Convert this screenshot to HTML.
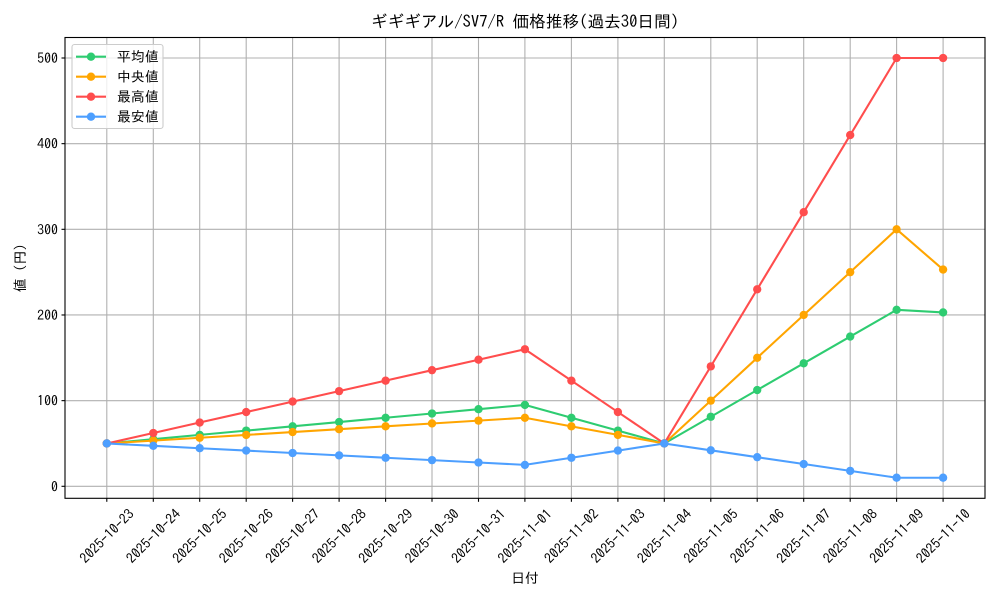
<!DOCTYPE html>
<html>
<head>
<meta charset="utf-8">
<style>
html,body{margin:0;padding:0;background:#fff;}
svg{display:block;}
text{font-family:"IPAGothic","Liberation Sans","Noto Sans CJK JP",sans-serif;fill:#000;}
</style>
</head>
<body>
<svg width="1000" height="600" viewBox="0 0 1000 600" xmlns="http://www.w3.org/2000/svg">
<rect x="0" y="0" width="1000" height="600" fill="#fff"/>
<!-- grid -->
<g stroke="#b0b0b0" stroke-width="1.1" fill="none">
<line x1="106.8" y1="37.5" x2="106.8" y2="498.3"/>
<line x1="153.3" y1="37.5" x2="153.3" y2="498.3"/>
<line x1="199.7" y1="37.5" x2="199.7" y2="498.3"/>
<line x1="246.2" y1="37.5" x2="246.2" y2="498.3"/>
<line x1="292.6" y1="37.5" x2="292.6" y2="498.3"/>
<line x1="339.1" y1="37.5" x2="339.1" y2="498.3"/>
<line x1="385.6" y1="37.5" x2="385.6" y2="498.3"/>
<line x1="432.0" y1="37.5" x2="432.0" y2="498.3"/>
<line x1="478.5" y1="37.5" x2="478.5" y2="498.3"/>
<line x1="524.9" y1="37.5" x2="524.9" y2="498.3"/>
<line x1="571.4" y1="37.5" x2="571.4" y2="498.3"/>
<line x1="617.9" y1="37.5" x2="617.9" y2="498.3"/>
<line x1="664.3" y1="37.5" x2="664.3" y2="498.3"/>
<line x1="710.8" y1="37.5" x2="710.8" y2="498.3"/>
<line x1="757.2" y1="37.5" x2="757.2" y2="498.3"/>
<line x1="803.7" y1="37.5" x2="803.7" y2="498.3"/>
<line x1="850.2" y1="37.5" x2="850.2" y2="498.3"/>
<line x1="896.6" y1="37.5" x2="896.6" y2="498.3"/>
<line x1="943.1" y1="37.5" x2="943.1" y2="498.3"/>
<line x1="65" y1="486.3" x2="985" y2="486.3"/>
<line x1="65" y1="400.64" x2="985" y2="400.64"/>
<line x1="65" y1="314.98" x2="985" y2="314.98"/>
<line x1="65" y1="229.32" x2="985" y2="229.32"/>
<line x1="65" y1="143.66" x2="985" y2="143.66"/>
<line x1="65" y1="58.0" x2="985" y2="58.0"/>
</g>
<!-- ticks -->
<g stroke="#000" stroke-width="1.1">
<line x1="106.8" y1="498.3" x2="106.8" y2="501.8"/>
<line x1="153.3" y1="498.3" x2="153.3" y2="501.8"/>
<line x1="199.7" y1="498.3" x2="199.7" y2="501.8"/>
<line x1="246.2" y1="498.3" x2="246.2" y2="501.8"/>
<line x1="292.6" y1="498.3" x2="292.6" y2="501.8"/>
<line x1="339.1" y1="498.3" x2="339.1" y2="501.8"/>
<line x1="385.6" y1="498.3" x2="385.6" y2="501.8"/>
<line x1="432.0" y1="498.3" x2="432.0" y2="501.8"/>
<line x1="478.5" y1="498.3" x2="478.5" y2="501.8"/>
<line x1="524.9" y1="498.3" x2="524.9" y2="501.8"/>
<line x1="571.4" y1="498.3" x2="571.4" y2="501.8"/>
<line x1="617.9" y1="498.3" x2="617.9" y2="501.8"/>
<line x1="664.3" y1="498.3" x2="664.3" y2="501.8"/>
<line x1="710.8" y1="498.3" x2="710.8" y2="501.8"/>
<line x1="757.2" y1="498.3" x2="757.2" y2="501.8"/>
<line x1="803.7" y1="498.3" x2="803.7" y2="501.8"/>
<line x1="850.2" y1="498.3" x2="850.2" y2="501.8"/>
<line x1="896.6" y1="498.3" x2="896.6" y2="501.8"/>
<line x1="943.1" y1="498.3" x2="943.1" y2="501.8"/>
<line x1="61.5" y1="486.3" x2="65" y2="486.3"/>
<line x1="61.5" y1="400.64" x2="65" y2="400.64"/>
<line x1="61.5" y1="314.98" x2="65" y2="314.98"/>
<line x1="61.5" y1="229.32" x2="65" y2="229.32"/>
<line x1="61.5" y1="143.66" x2="65" y2="143.66"/>
<line x1="61.5" y1="58.0" x2="65" y2="58.0"/>
</g>
<!-- y tick labels -->
<g font-size="13.9" text-anchor="end" dominant-baseline="central">
<text x="58" y="486.3">0</text>
<text x="58" y="400.64">100</text>
<text x="58" y="314.98">200</text>
<text x="58" y="229.32">300</text>
<text x="58" y="143.66">400</text>
<text x="58" y="58.0">500</text>
</g>
<!-- x tick labels -->
<g font-size="13.9" text-anchor="middle" dominant-baseline="central">
<text transform="translate(106.8,536) rotate(-45)">2025-10-23</text>
<text transform="translate(153.3,536) rotate(-45)">2025-10-24</text>
<text transform="translate(199.7,536) rotate(-45)">2025-10-25</text>
<text transform="translate(246.2,536) rotate(-45)">2025-10-26</text>
<text transform="translate(292.6,536) rotate(-45)">2025-10-27</text>
<text transform="translate(339.1,536) rotate(-45)">2025-10-28</text>
<text transform="translate(385.6,536) rotate(-45)">2025-10-29</text>
<text transform="translate(432.0,536) rotate(-45)">2025-10-30</text>
<text transform="translate(478.5,536) rotate(-45)">2025-10-31</text>
<text transform="translate(524.9,536) rotate(-45)">2025-11-01</text>
<text transform="translate(571.4,536) rotate(-45)">2025-11-02</text>
<text transform="translate(617.9,536) rotate(-45)">2025-11-03</text>
<text transform="translate(664.3,536) rotate(-45)">2025-11-04</text>
<text transform="translate(710.8,536) rotate(-45)">2025-11-05</text>
<text transform="translate(757.2,536) rotate(-45)">2025-11-06</text>
<text transform="translate(803.7,536) rotate(-45)">2025-11-07</text>
<text transform="translate(850.2,536) rotate(-45)">2025-11-08</text>
<text transform="translate(896.6,536) rotate(-45)">2025-11-09</text>
<text transform="translate(943.1,536) rotate(-45)">2025-11-10</text>
</g>
<!-- axis labels & title -->
<text x="525" y="578" font-size="13.9" text-anchor="middle" dominant-baseline="central">日付</text>
<text transform="translate(20,268) rotate(-90)" font-size="13.9" text-anchor="middle" dominant-baseline="central">値 (円)</text>
<text x="525" y="22" font-size="16.67" text-anchor="middle" dominant-baseline="central">ギギギアル/SV7/R 価格推移(過去30日間)</text>

<!-- series -->
<g fill="none" stroke-width="2.08" stroke-linejoin="round" stroke-linecap="round">
<polyline stroke="#2ecc71" points="106.8,443.47 153.3,439.19 199.7,434.90 246.2,430.62 292.6,426.34 339.1,422.06 385.6,417.77 432.0,413.49 478.5,409.21 524.9,404.92 571.4,417.77 617.9,430.62 664.3,443.47 710.8,416.74 757.2,390.02 803.7,363.29 850.2,336.57 896.6,309.84 943.1,312.41"/>
</g>
<g fill="#2ecc71">
<circle cx="106.8" cy="443.47" r="4.17"/><circle cx="153.3" cy="439.19" r="4.17"/><circle cx="199.7" cy="434.90" r="4.17"/><circle cx="246.2" cy="430.62" r="4.17"/><circle cx="292.6" cy="426.34" r="4.17"/><circle cx="339.1" cy="422.06" r="4.17"/><circle cx="385.6" cy="417.77" r="4.17"/><circle cx="432.0" cy="413.49" r="4.17"/><circle cx="478.5" cy="409.21" r="4.17"/><circle cx="524.9" cy="404.92" r="4.17"/><circle cx="571.4" cy="417.77" r="4.17"/><circle cx="617.9" cy="430.62" r="4.17"/><circle cx="664.3" cy="443.47" r="4.17"/><circle cx="710.8" cy="416.74" r="4.17"/><circle cx="757.2" cy="390.02" r="4.17"/><circle cx="803.7" cy="363.29" r="4.17"/><circle cx="850.2" cy="336.57" r="4.17"/><circle cx="896.6" cy="309.84" r="4.17"/><circle cx="943.1" cy="312.41" r="4.17"/>
</g>

<g fill="none" stroke-width="2.08" stroke-linejoin="round" stroke-linecap="round">
<polyline stroke="#ffa500" points="106.8,443.47 153.3,440.62 199.7,437.76 246.2,434.90 292.6,432.05 339.1,429.19 385.6,426.34 432.0,423.48 478.5,420.62 524.9,417.77 571.4,426.34 617.9,434.90 664.3,443.47 710.8,400.64 757.2,357.81 803.7,314.98 850.2,272.15 896.6,229.32 943.1,269.58"/>
</g>
<g fill="#ffa500">
<circle cx="106.8" cy="443.47" r="4.17"/><circle cx="153.3" cy="440.62" r="4.17"/><circle cx="199.7" cy="437.76" r="4.17"/><circle cx="246.2" cy="434.90" r="4.17"/><circle cx="292.6" cy="432.05" r="4.17"/><circle cx="339.1" cy="429.19" r="4.17"/><circle cx="385.6" cy="426.34" r="4.17"/><circle cx="432.0" cy="423.48" r="4.17"/><circle cx="478.5" cy="420.62" r="4.17"/><circle cx="524.9" cy="417.77" r="4.17"/><circle cx="571.4" cy="426.34" r="4.17"/><circle cx="617.9" cy="434.90" r="4.17"/><circle cx="664.3" cy="443.47" r="4.17"/><circle cx="710.8" cy="400.64" r="4.17"/><circle cx="757.2" cy="357.81" r="4.17"/><circle cx="803.7" cy="314.98" r="4.17"/><circle cx="850.2" cy="272.15" r="4.17"/><circle cx="896.6" cy="229.32" r="4.17"/><circle cx="943.1" cy="269.58" r="4.17"/>
</g>

<g fill="none" stroke-width="2.08" stroke-linejoin="round" stroke-linecap="round">
<polyline stroke="#ff4d4d" points="106.8,443.47 153.3,433.00 199.7,422.53 246.2,412.06 292.6,401.59 339.1,391.12 385.6,380.65 432.0,370.18 478.5,359.71 524.9,349.24 571.4,380.65 617.9,412.06 664.3,443.47 710.8,366.38 757.2,289.28 803.7,212.19 850.2,135.09 896.6,58.0 943.1,58.0"/>
</g>
<g fill="#ff4d4d">
<circle cx="106.8" cy="443.47" r="4.17"/><circle cx="153.3" cy="433.00" r="4.17"/><circle cx="199.7" cy="422.53" r="4.17"/><circle cx="246.2" cy="412.06" r="4.17"/><circle cx="292.6" cy="401.59" r="4.17"/><circle cx="339.1" cy="391.12" r="4.17"/><circle cx="385.6" cy="380.65" r="4.17"/><circle cx="432.0" cy="370.18" r="4.17"/><circle cx="478.5" cy="359.71" r="4.17"/><circle cx="524.9" cy="349.24" r="4.17"/><circle cx="571.4" cy="380.65" r="4.17"/><circle cx="617.9" cy="412.06" r="4.17"/><circle cx="664.3" cy="443.47" r="4.17"/><circle cx="710.8" cy="366.38" r="4.17"/><circle cx="757.2" cy="289.28" r="4.17"/><circle cx="803.7" cy="212.19" r="4.17"/><circle cx="850.2" cy="135.09" r="4.17"/><circle cx="896.6" cy="58.0" r="4.17"/><circle cx="943.1" cy="58.0" r="4.17"/>
</g>

<g fill="none" stroke-width="2.08" stroke-linejoin="round" stroke-linecap="round">
<polyline stroke="#4d9fff" points="106.8,443.47 153.3,445.85 199.7,448.23 246.2,450.60 292.6,452.99 339.1,455.37 385.6,457.75 432.0,460.12 478.5,462.50 524.9,464.89 571.4,457.75 617.9,450.60 664.3,443.47 710.8,450.32 757.2,457.18 803.7,464.03 850.2,470.88 896.6,477.73 943.1,477.73"/>
</g>
<g fill="#4d9fff">
<circle cx="106.8" cy="443.47" r="4.17"/><circle cx="153.3" cy="445.85" r="4.17"/><circle cx="199.7" cy="448.23" r="4.17"/><circle cx="246.2" cy="450.60" r="4.17"/><circle cx="292.6" cy="452.99" r="4.17"/><circle cx="339.1" cy="455.37" r="4.17"/><circle cx="385.6" cy="457.75" r="4.17"/><circle cx="432.0" cy="460.12" r="4.17"/><circle cx="478.5" cy="462.50" r="4.17"/><circle cx="524.9" cy="464.89" r="4.17"/><circle cx="571.4" cy="457.75" r="4.17"/><circle cx="617.9" cy="450.60" r="4.17"/><circle cx="664.3" cy="443.47" r="4.17"/><circle cx="710.8" cy="450.32" r="4.17"/><circle cx="757.2" cy="457.18" r="4.17"/><circle cx="803.7" cy="464.03" r="4.17"/><circle cx="850.2" cy="470.88" r="4.17"/><circle cx="896.6" cy="477.73" r="4.17"/><circle cx="943.1" cy="477.73" r="4.17"/>
</g>

<!-- axes frame -->
<rect x="65" y="37.5" width="920" height="460.8" fill="none" stroke="#000" stroke-width="1.1"/>

<!-- legend -->
<rect x="72" y="44.5" width="91" height="84" rx="2.5" ry="2.5" fill="#fff" fill-opacity="0.8" stroke="#cccccc" stroke-width="1.1"/>
<g stroke-width="2.08">
<line x1="76" y1="56.7" x2="106" y2="56.7" stroke="#2ecc71"/>
<line x1="76" y1="76.7" x2="106" y2="76.7" stroke="#ffa500"/>
<line x1="76" y1="96.7" x2="106" y2="96.7" stroke="#ff4d4d"/>
<line x1="76" y1="116.7" x2="106" y2="116.7" stroke="#4d9fff"/>
</g>
<circle cx="91" cy="56.7" r="4.17" fill="#2ecc71"/>
<circle cx="91" cy="76.7" r="4.17" fill="#ffa500"/>
<circle cx="91" cy="96.7" r="4.17" fill="#ff4d4d"/>
<circle cx="91" cy="116.7" r="4.17" fill="#4d9fff"/>
<g font-size="13.9" dominant-baseline="central">
<text x="117" y="56.7">平均値</text>
<text x="117" y="76.7">中央値</text>
<text x="117" y="96.7">最高値</text>
<text x="117" y="116.7">最安値</text>
</g>
</svg>
</body>
</html>
